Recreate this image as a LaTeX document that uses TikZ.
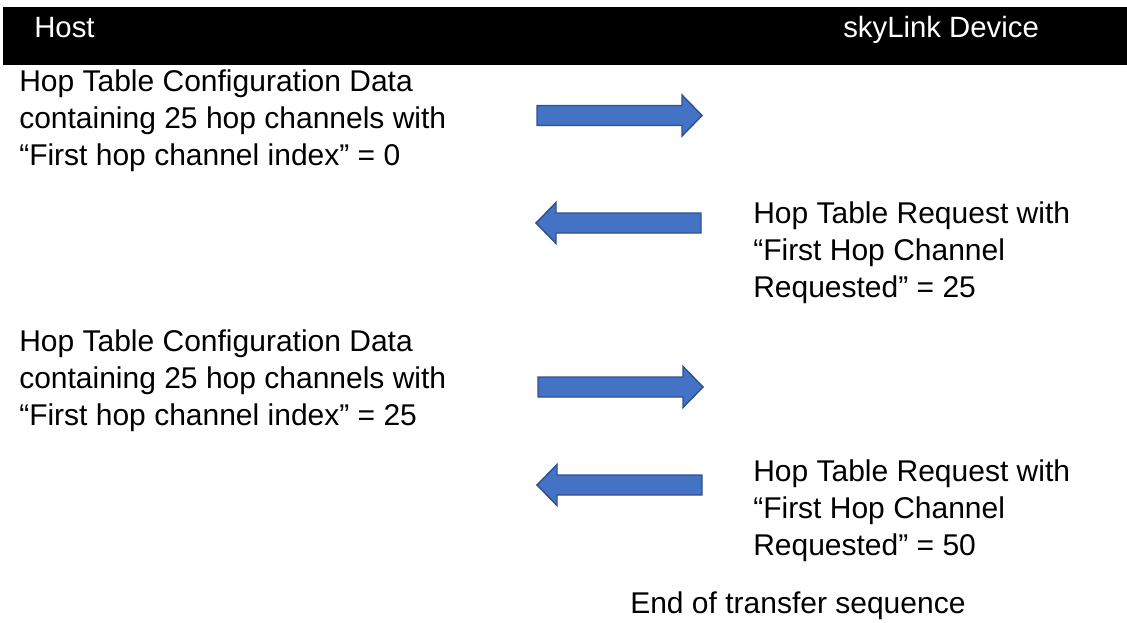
\documentclass[tikz,border=0pt]{standalone}
\usepackage{fontspec}
\setmainfont{Liberation Sans}
\definecolor{arrowfill}{HTML}{4472C4}
\definecolor{arrowedge}{HTML}{2F528F}
\begin{document}
\begin{tikzpicture}[x=0.75pt,y=-0.75pt,
  msg/.style={anchor=base west,inner sep=0pt,align=left,
    font=\fontsize{22.5pt}{27.4pt}\selectfont},
  head/.style={anchor=base west,inner sep=0pt,text=white,
    font=\fontsize{22pt}{26pt}\selectfont},
  blockarrow/.style={fill=arrowfill,draw=arrowedge,line width=1.1pt,line join=miter},
  rblk/.pic={\draw[blockarrow] (0,-10) -- (145,-10) -- (145,-20.5) -- (165,0)
      -- (145,20.5) -- (145,10) -- (0,10) -- cycle;},
  lblk/.pic={\draw[blockarrow] (0,0) -- (20,-20.5) -- (20,-10) -- (165,-10)
      -- (165,10) -- (20,10) -- (20,20.5) -- cycle;}]
\useasboundingbox (0,0) rectangle (1127,622);

% header band
\fill[black] (3,7) rectangle (1127,65);
\node[head] (host) at (34,37) {Host};
\node[head] (dev) at (843,37) {skyLink Device};

% messages (base anchor sits on the last line)
\node[msg] (cfg1) at (19,165) {Hop Table Configuration Data\\containing 25 hop channels with\\“First hop channel index” = 0};
\pic (a1) at (537,115.5) {rblk};

\pic (a2) at (536,223) {lblk};
\node[msg] (req1) at (753,297) {Hop Table Request with\\“First Hop Channel\\Requested” = 25};

\node[msg] (cfg2) at (19,425) {Hop Table Configuration Data\\containing 25 hop channels with\\“First hop channel index” = 25};
\pic (a3) at (538,387) {rblk};

\pic (a4) at (537,485) {lblk};
\node[msg] (req2) at (753,555) {Hop Table Request with\\“First Hop Channel\\Requested” = 50};

\node[msg] (endseq) at (630,613) {End of transfer sequence};
\end{tikzpicture}
\end{document}
